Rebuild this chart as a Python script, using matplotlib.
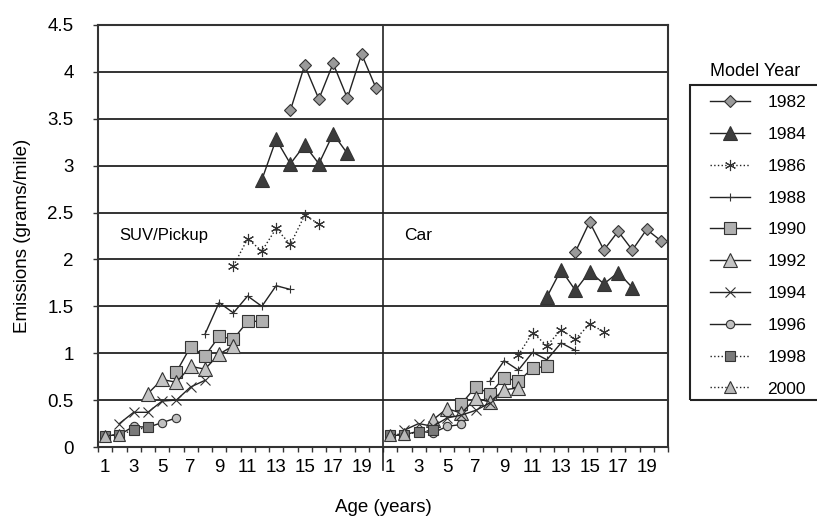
import numpy as np
import matplotlib
matplotlib.use("Agg")
import matplotlib.pyplot as plt
from matplotlib.lines import Line2D
from matplotlib.patches import Rectangle

plt.rcParams["font.family"] = ["Liberation Sans", "DejaVu Sans"]

# model years and first age of each series
years = [1982, 1984, 1986, 1988, 1990, 1992, 1994, 1996, 1998, 2000]
start_age = [14, 12, 10, 8, 6, 4, 2, 1, 1, 1]

# emissions (grams/mile), SUV/Pickup
suv = {
    1982: [3.59, 4.07, 3.71, 4.09, 3.72, 4.19, 3.83],
    1984: [2.85, 3.28, 3.02, 3.22, 3.02, 3.34, 3.13],
    1986: [1.93, 2.22, 2.09, 2.33, 2.16, 2.47, 2.38],
    1988: [1.20, 1.54, 1.43, 1.61, 1.50, 1.72, 1.68],
    1990: [0.80, 1.07, 0.97, 1.18, 1.15, 1.34, 1.34],
    1992: [0.57, 0.72, 0.69, 0.86, 0.83, 0.99, 1.08],
    1994: [0.25, 0.37, 0.37, 0.49, 0.50, 0.64, 0.71],
    1996: [0.12, 0.13, 0.22, 0.21, 0.26, 0.31],
    1998: [0.12, 0.13, 0.18, 0.21],
    2000: [0.12, 0.13],
}

# emissions (grams/mile), Car
car = {
    1982: [2.08, 2.40, 2.10, 2.30, 2.10, 2.32, 2.20],
    1984: [1.60, 1.89, 1.67, 1.87, 1.74, 1.86, 1.70],
    1986: [0.98, 1.22, 1.08, 1.25, 1.15, 1.31, 1.23],
    1988: [0.70, 0.92, 0.82, 1.01, 0.93, 1.11, 1.03],
    1990: [0.46, 0.64, 0.57, 0.74, 0.70, 0.84, 0.86],
    1992: [0.29, 0.41, 0.36, 0.52, 0.48, 0.61, 0.63],
    1994: [0.18, 0.25, 0.22, 0.31, 0.34, 0.39, 0.47],
    1996: [0.12, 0.13, 0.17, 0.15, 0.22, 0.24],
    1998: [0.13, 0.13, 0.16, 0.18],
    2000: [0.13, 0.14],
}

age_labels = [str(a) for a in range(1, 20, 2)]

# style per model year
styles = {
    1982: dict(marker="D", ms=6.5, mfc="#9a9a9a", ls="-"),
    1984: dict(marker="^", ms=10, mfc="#3c3c3c", ls="-"),
    1986: dict(marker=(6, 2, 0), ms=8, mfc="#222222", ls=":"),
    1988: dict(marker="+", ms=6, mfc="#222222", ls="-"),
    1990: dict(marker="s", ms=8, mfc="#b0b0b0", ls="-"),
    1992: dict(marker="^", ms=9.5, mfc="#c4c4c4", ls="-"),
    1994: dict(marker="x", ms=7, mfc="#222222", ls="-"),
    1996: dict(marker="o", ms=6, mfc="#c0c0c0", ls="-"),
    1998: dict(marker="s", ms=7, mfc="#7a7a7a", ls=":"),
    2000: dict(marker="^", ms=8, mfc="#b8b8b8", ls=":"),
}

fig = plt.figure(figsize=(8.17, 5.25), dpi=100)
ax = fig.add_axes([98 / 817, 1 - 447 / 525, 570 / 817, 422 / 525])

handles = []
for i, yr in enumerate(years):
    st = styles[yr]
    kw = dict(color="#222222", lw=1.0, linestyle=st["ls"], marker=st["marker"],
              markersize=st["ms"], markerfacecolor=st["mfc"],
              markeredgecolor="#333333", markeredgewidth=0.8, zorder=3 + i)
    for offset, data in ((0, suv), (20, car)):
        vals = data[yr]
        x = offset + np.arange(start_age[i], start_age[i] + len(vals)) - 0.5
        ax.plot(x, vals, **kw)
    handles.append(Line2D([], [], **{k: v for k, v in kw.items() if k != "zorder"}))

ax.set_xlim(0, 40)
ax.set_ylim(0, 4.5)
ax.set_yticks(np.arange(0, 4.51, 0.5))
ax.set_yticklabels(["0", "0.5", "1", "1.5", "2", "2.5", "3", "3.5", "4", "4.5"])
ax.grid(axis="y", color="#333333", lw=1.4, zorder=1)

major = [a - 0.5 for a in range(1, 20, 2)] + [20 + a - 0.5 for a in range(1, 20, 2)]
ax.set_xticks(major)
ax.set_xticklabels(age_labels + age_labels)
ax.set_xticks(range(41), minor=True)
ax.tick_params(axis="x", which="major", length=0, pad=9, labelsize=13.5)
ax.tick_params(axis="x", which="minor", length=3.5, width=1, direction="out", color="#333333")
ax.tick_params(axis="y", length=3.5, width=1, labelsize=13.5, pad=14, color="#333333")

for s in ax.spines.values():
    s.set_color("#333333")
    s.set_linewidth(1.5)

ax.axvline(20, ymin=-0.055, ymax=1, color="#222222", lw=1.2, clip_on=False, zorder=2)

ax.text(1.5, 2.26, "SUV/Pickup", fontsize=12, va="center", ha="left")
ax.text(21.5, 2.26, "Car", fontsize=12.5, va="center", ha="left")

ax.set_xlabel("Age (years)", fontsize=13.5, labelpad=16)
ax.set_ylabel("Emissions (grams/mile)", fontsize=13.5, labelpad=12)

# legend
fig.patches.append(Rectangle((690 / 817, 1 - 400 / 525), 0.3, 315 / 525,
                             transform=fig.transFigure, fill=False,
                             edgecolor="#222222", lw=1.5))
fig.text(755 / 817, 1 - 72 / 525, "Model Year", fontsize=13, ha="center", va="center")
fig.legend(handles, [str(y) for y in years], loc="upper left",
           bbox_to_anchor=(710 / 817, 1 - 95 / 525), frameon=False,
           fontsize=12.5, handlelength=2.3, handletextpad=1.0,
           labelspacing=0.96, borderpad=0, borderaxespad=0)

fig.savefig("out.png", dpi=100)
